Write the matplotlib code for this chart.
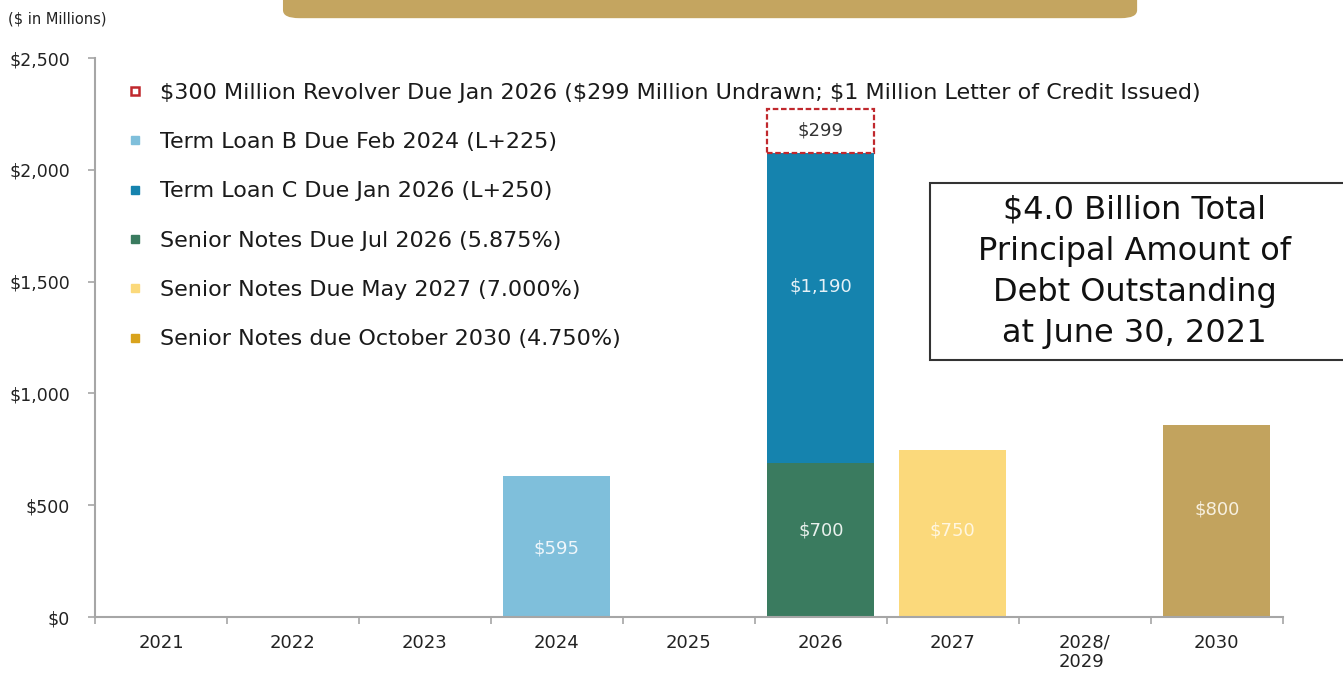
import numpy as np
import matplotlib
matplotlib.use('Agg')
import matplotlib.pyplot as plt
from matplotlib.lines import Line2D
from matplotlib.patches import Rectangle, FancyBboxPatch

# categorias do eixo x
anos = ['2021', '2022', '2023', '2024', '2025', '2026', '2027', '2028/\n2029', '2030']

# alturas (em milhões)
term_loan_b = [0, 0, 0, 629, 0, 0, 0, 0, 0]
senior_2026 = [0, 0, 0, 0, 0, 687, 0, 0, 0]
term_loan_c = [0, 0, 0, 0, 0, 1389, 0, 0, 0]
revolver = [0, 0, 0, 0, 0, 196, 0, 0, 0]
senior_2027 = [0, 0, 0, 0, 0, 0, 745, 0, 0]
senior_2030 = [0, 0, 0, 0, 0, 0, 0, 0, 857]

# rótulos escritos nas barras
rot_term_loan_b = '$595'
rot_senior_2026 = '$700'
rot_term_loan_c = '$1,190'
rot_revolver = '$299'
rot_senior_2027 = '$750'
rot_senior_2030 = '$800'

legendas = [
    '$300 Million Revolver Due Jan 2026 ($299 Million Undrawn; $1 Million Letter of Credit Issued)',
    'Term Loan B Due Feb 2024 (L+225)',
    'Term Loan C Due Jan 2026 (L+250)',
    'Senior Notes Due Jul 2026 (5.875%)',
    'Senior Notes Due May 2027 (7.000%)',
    'Senior Notes due October 2030 (4.750%)',
]

cor_b = '#7fbfdb'
cor_c = '#1583ae'
cor_verde = '#3a7b5f'
cor_amarelo = '#fbd97b'
cor_ouro = '#c2a35e'
cor_ouro_leg = '#d9a31c'
cor_vermelho = '#c0282d'

plt.rcParams['font.family'] = ['DejaVu Sans']

fig = plt.figure(figsize=(13.43, 6.73), dpi=100)
ax = fig.add_axes([0.0707, 0.0832, 0.8845, 0.8306])

x = np.arange(len(anos))
larg = 0.81


def barras(valores, base=None, **kw):
    # desenha só as barras com valor (evita contornos em zero)
    v = np.array(valores, dtype=float)
    b = np.zeros_like(v) if base is None else np.array(base, dtype=float)
    m = v > 0
    ax.bar(x[m], v[m], larg, bottom=b[m], **kw)


barras(term_loan_b, color=cor_b)
barras(senior_2026, color=cor_verde)
barras(term_loan_c, senior_2026, color=cor_c)
base_rev = np.array(senior_2026) + np.array(term_loan_c)
barras(revolver, base_rev, color='white', edgecolor=cor_vermelho,
       linestyle=(0, (2.5, 1.2)), linewidth=1.6)
barras(senior_2027, color=cor_amarelo)
barras(senior_2030, color=cor_ouro)


# rótulos
def rotulo(valores, base, texto, cor, frac=0.5, tam=13):
    for i, v in enumerate(valores):
        if v > 0:
            b = base[i] if base is not None else 0
            ax.text(x[i], b + v * frac, texto, ha='center', va='center',
                    color=cor, fontsize=tam)


rotulo(term_loan_b, None, rot_term_loan_b, '#eef6fb', 0.49)
rotulo(senior_2026, None, rot_senior_2026, '#e8f0ec', 0.56)
rotulo(term_loan_c, senior_2026, rot_term_loan_c, '#e6f1f7', 0.57)
rotulo(revolver, base_rev, rot_revolver, '#333333', 0.5)
rotulo(senior_2027, None, rot_senior_2027, '#fff6e0', 0.52)
rotulo(senior_2030, None, rot_senior_2030, '#f7f0e0', 0.56)

ax.set_xlim(-0.5, len(anos) - 0.5)
ax.set_ylim(0, 2500)
ax.set_yticks([0, 500, 1000, 1500, 2000, 2500])
ax.set_yticklabels(['$0', '$500', '$1,000', '$1,500', '$2,000', '$2,500'],
                   fontsize=12.5, color='#222222')

ax.set_xticks(x)
ax.set_xticklabels(anos, fontsize=13, color='#222222', va='top', linespacing=1.1,
                   multialignment='left')
ax.set_xticks(np.arange(-0.5, len(anos), 1), minor=True)
ax.tick_params(axis='x', which='major', length=0, pad=12)
ax.tick_params(axis='x', which='minor', length=5, color='#a6a6a6', width=1.2)
ax.tick_params(axis='y', length=5, color='#a6a6a6', width=1.2, pad=13)

for lado in ['top', 'right']:
    ax.spines[lado].set_visible(False)
for lado in ['left', 'bottom']:
    ax.spines[lado].set_color('#a6a6a6')
    ax.spines[lado].set_linewidth(1.5)

# legenda
alcas = [
    Line2D([], [], marker='s', linestyle='none', markersize=6,
           markerfacecolor='white', markeredgecolor=cor_vermelho, markeredgewidth=1.8),
    Line2D([], [], marker='s', linestyle='none', markersize=6, color=cor_b),
    Line2D([], [], marker='s', linestyle='none', markersize=6, color=cor_c),
    Line2D([], [], marker='s', linestyle='none', markersize=6, color=cor_verde),
    Line2D([], [], marker='s', linestyle='none', markersize=6, color=cor_amarelo),
    Line2D([], [], marker='s', linestyle='none', markersize=6, color=cor_ouro_leg),
]
ax.legend(alcas, legendas, loc='upper left', bbox_to_anchor=(0.095, 0.877),
          bbox_transform=fig.transFigure, frameon=False, fontsize=16,
          labelspacing=1.32, handlelength=0.7, handletextpad=0.75,
          borderaxespad=0, borderpad=0, labelcolor='#1a1a1a')

# caixa de texto à direita
fig.patches.append(Rectangle((0.6925, 0.465), 0.32, 0.263, transform=fig.transFigure,
                             facecolor='white', edgecolor='#333333', linewidth=1.5))
fig.text(0.845, 0.596, '$4.0 Billion Total\nPrincipal Amount of\nDebt Outstanding\nat June 30, 2021',
         ha='center', va='center', fontsize=23, linespacing=1.42, color='#111111')

# faixa dourada no topo
fig.patches.append(FancyBboxPatch((0.2107, 0.973), 0.636, 0.1, transform=fig.transFigure,
                                  boxstyle='round,pad=0,rounding_size=0.012',
                                  facecolor='#c4a560', edgecolor='none'))

fig.text(0.006, 0.972, '($ in Millions)', fontsize=10.5, color='#222222', va='center')

fig.savefig('out.png', dpi=100)
